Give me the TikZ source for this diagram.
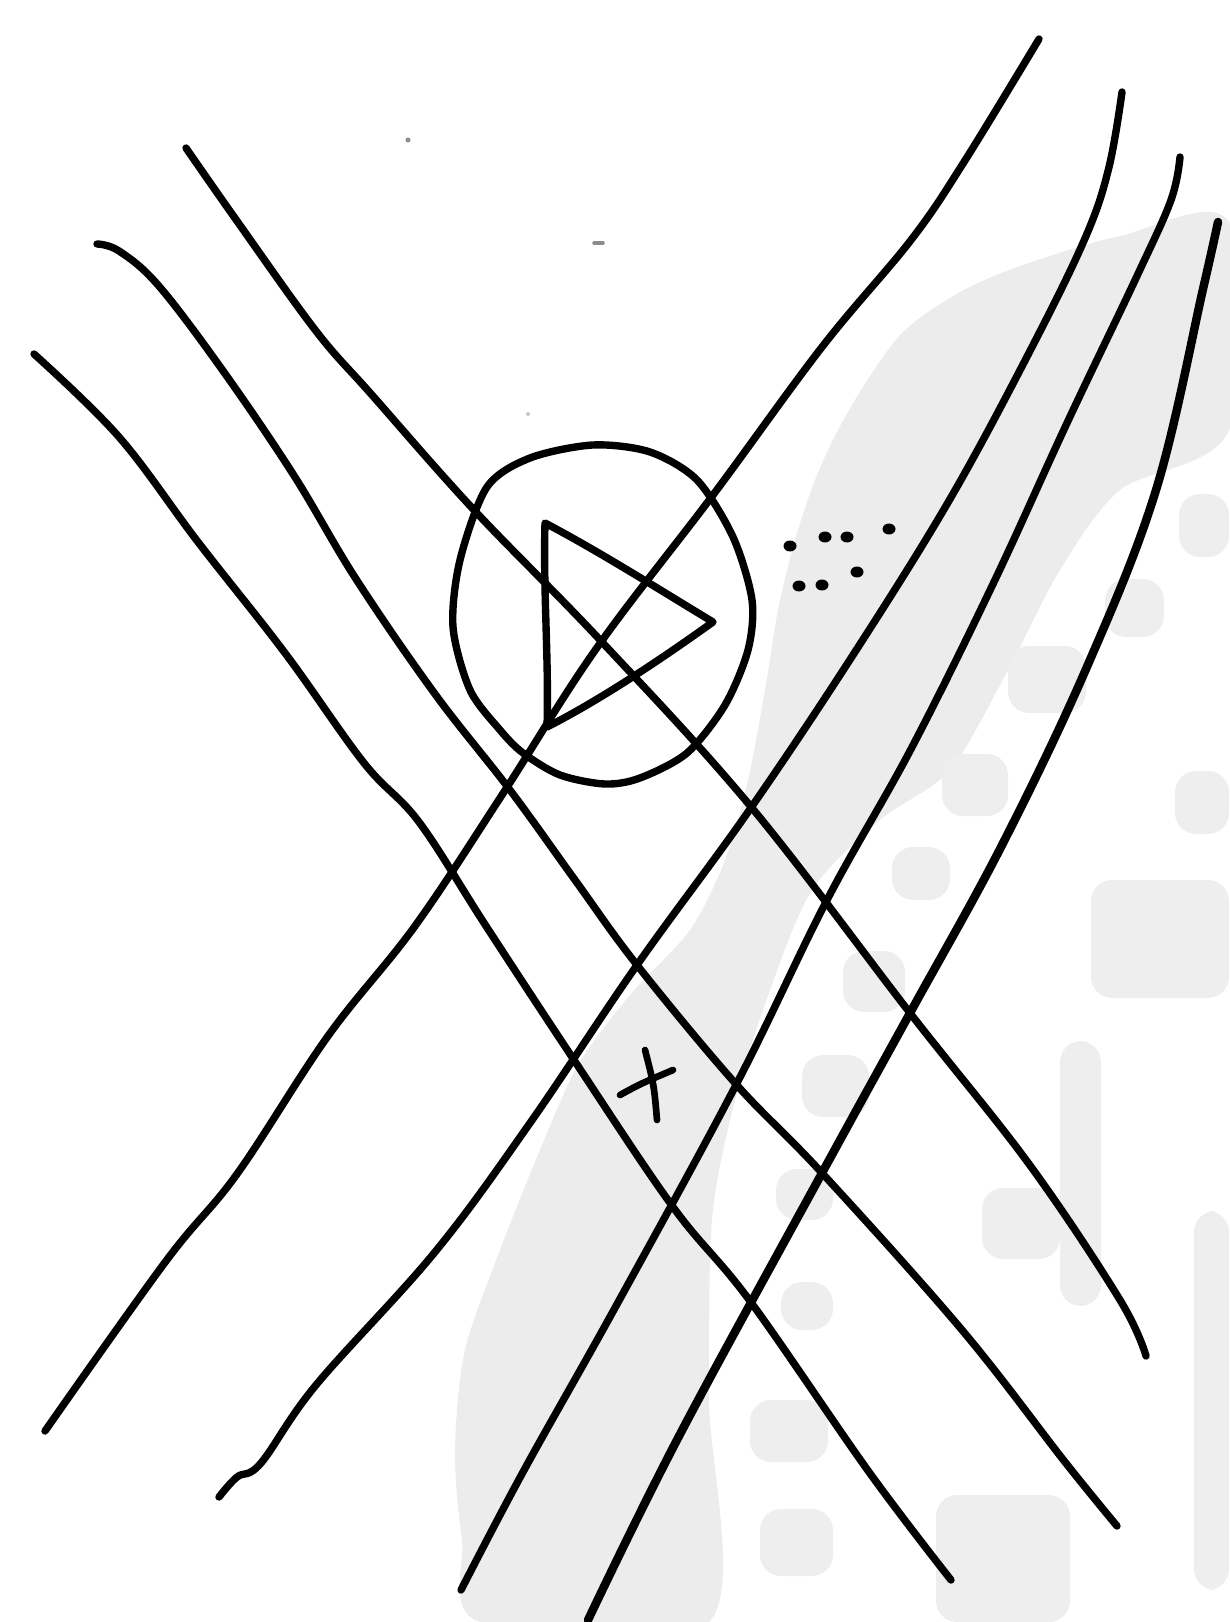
\documentclass[tikz,border=0pt]{standalone}
\definecolor{bleedgray}{gray}{0.925}
\definecolor{blotchgray}{gray}{0.935}
\definecolor{speckgray}{gray}{0.55}

\begin{document}
\begin{tikzpicture}[
  x=0.01cm, y=-0.01cm,
  inkline/.style={line width=2.1pt, line cap=round, line join=round},
  smear/.style={fill=bleedgray, draw=none},
  blotch/.style={fill=blotchgray, draw=none, rounded corners=6pt},
  inkdot/.style={fill=black, draw=none}
]
\useasboundingbox (0,0) rectangle (1229,1622);

% faint show-through of the paper, drawn first so the ink sits on top
\fill[smear] plot[smooth cycle, tension=0.5] coordinates {
  (1229,222) (1120,236) (1020,266) (960,292) (905,330) (868,379) (838,430)
  (815,480) (795,540) (778,610) (765,690) (748,780) (725,860) (690,930)
  (630,995) (578,1065) (540,1150) (500,1250) (465,1350) (455,1450)
  (462,1540) (480,1622) (709,1622) (709,1400) (712,1220) (735,1100)
  (770,990) (812,890) (880,820) (950,770) (1008,670) (1060,570)
  (1120,490) (1229,430)};
\foreach \xa/\ya/\xb/\yb in {1091/880/1229/998, 1060/1041/1101/1306,
    982/1188/1060/1259, 1194/1211/1229/1590, 936/1495/1070/1622,
    781/1282/833/1330, 750/1400/828/1462, 760/1509/833/1576,
    802/1055/869/1117, 843/951/905/1012, 776/1169/833/1220,
    1179/494/1229/557, 1105/579/1164/637, 1008/646/1086/713,
    942/754/1008/816, 1175/771/1229/834, 892/847/950/900}
  \fill[blotch] (\xa,\ya) rectangle (\xb,\yb);

% specks on the paper
\fill[speckgray] (408,140) circle (2.5);
\draw[speckgray, line width=1pt, line cap=round] (594,243) -- (603,243);
\fill[speckgray!50] (528,414) circle (2);

% strokes running from upper left to lower right
\draw[inkline] plot[smooth, tension=0.6] coordinates {
  (186,148) (237,221) (316,331) (372,395) (474,510) (601,641) (752,808)
  (910,1013) (1029,1164) (1120,1300) (1146,1356)};
\draw[inkline] plot[smooth, tension=0.6] coordinates {
  (97,244) (119,251) (158,285) (221,368) (293,474) (356,579) (435,694)
  (510,790) (575,880) (637,965) (735,1083) (822,1173) (962,1330)
  (1065,1462) (1117,1526)};
\draw[inkline] plot[smooth, tension=0.6] coordinates {
  (34,354) (119,437) (198,542) (285,653) (364,763) (419,822) (486,926)
  (574,1060) (673,1207) (750,1301) (869,1472) (951,1580)};

% strokes running from upper right to lower left
\draw[inkline] plot[smooth, tension=0.6] coordinates {
  (1039,39) (964,162) (911,240) (822,347) (713,495) (596,649) (502,795)
  (415,926) (328,1036) (237,1174) (166,1261) (45,1431)};
\draw[inkline] plot[smooth, tension=0.6] coordinates {
  (1122,92) (1109,167) (1086,236) (1032,347) (950,499) (853,655)
  (748,812) (637,965) (530,1123) (435,1252) (316,1385) (261,1463)
  (237,1477) (219,1497)};
\draw[inkline] plot[smooth, tension=0.6] coordinates {
  (1180,157) (1171,200) (1137,276) (1067,423) (993,584) (911,749)
  (827,900) (737,1083) (616,1306) (523,1472) (461,1590)};
\draw[inkline, line width=2.4pt] plot[smooth, tension=0.6] coordinates {
  (1218,222) (1203,289) (1156,490) (1086,669) (1001,847) (910,1013)
  (822,1173) (678,1438) (588,1620)};

% the ring and the triangle inside it
\draw[inkline] plot[smooth cycle] coordinates {
  (593,445) (650,452) (697,480) (733,537) (752,600) (748,650) (725,705)
  (687,753) (640,778) (605,784) (560,775) (523,753) (500,730) (470,690)
  (453,627) (460,560) (487,487) (530,458)};
\draw[inkline] (545,523) .. controls (600,552) and (660,590) .. (713,622)
  .. controls (660,660) and (600,700) .. (547,727)
  .. controls (549,660) and (543,590) .. cycle;

% dots beside the ring
\foreach \px/\py in {790/546, 825/537, 847/537, 889/529, 857/572,
    799/586, 822/585}
  \fill[inkdot] (\px,\py) ellipse (6.5 and 5.5);

% cross mark
\draw[inkline, line width=1.9pt] (620,1095) .. controls (640,1084) .. (673,1070);
\draw[inkline, line width=1.9pt] (645,1050) .. controls (654,1085) .. (657,1120);
\end{tikzpicture}
\end{document}
